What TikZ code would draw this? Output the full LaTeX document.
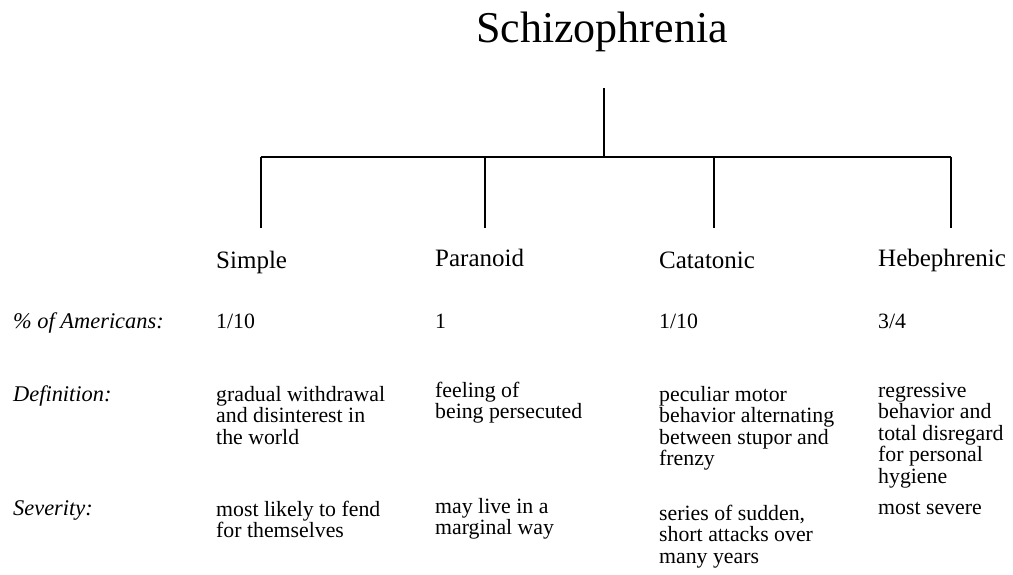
\documentclass[tikz,border=0pt]{standalone}
\usepackage{fontspec}
\setmainfont{Liberation Serif}
\newcommand\mlines[1]{\begin{tabular}[t]{@{}l@{}}#1\end{tabular}}
\begin{document}
\begin{tikzpicture}[x=1pt,y=-1pt,
  txt/.style={anchor=base west, inner sep=0pt, font=\fontsize{21.8}{21.5}\selectfont},
  rowlab/.style={anchor=base west, inner sep=0pt, font=\fontsize{22.4}{21.5}\selectfont\itshape},
  head/.style={anchor=base west, inner sep=0pt, font=\fontsize{25}{30}\selectfont},
  ttl/.style={anchor=base, inner sep=0pt, font=\fontsize{44}{50}\selectfont},
  conn/.style={line width=1.3pt}]
\useasboundingbox (0,0) rectangle (1013,574);
\node[ttl] (root) at (602,42) {Schizophrenia};
\coordinate (t) at (604,88);
\coordinate (j) at (604,157);
\coordinate (b1) at (261,157);
\coordinate (b2) at (485,157);
\coordinate (b3) at (714,157);
\coordinate (b4) at (951,157);
\coordinate (e1) at (261,228);
\coordinate (e2) at (485,228);
\coordinate (e3) at (714,228);
\coordinate (e4) at (951,228);
\draw[conn] (t) -- (j);
\draw[conn] (b1) -- (b4);
\draw[conn] (b1) -- (e1);
\draw[conn] (b2) -- (e2);
\draw[conn] (b3) -- (e3);
\draw[conn] (b4) -- (e4);
\node[head] (h1) at (216,268) {Simple};
\node[head] (h2) at (435,266) {Paranoid};
\node[head] (h3) at (659,268) {Catatonic};
\node[head] (h4) at (878,266) {Hebephrenic};
\node[rowlab] (l1) at (13,328) {\% of Americans:};
\node[rowlab] (l2) at (13,401) {Definition:};
\node[rowlab] (l3) at (13,515) {Severity:};
\node[txt] (p1) at (216,328) {1/10};
\node[txt] (p2) at (435,328) {1};
\node[txt] (p3) at (659,328) {1/10};
\node[txt] (p4) at (878,328) {3/4};
\node[txt] (d1) at (216,401) {\mlines{gradual withdrawal\\and disinterest in\\the world}};
\node[txt] (d2) at (435,397) {\mlines{feeling of\\being persecuted}};
\node[txt] (d3) at (659,401) {\mlines{peculiar motor\\behavior alternating\\between stupor and\\frenzy}};
\node[txt] (d4) at (878,397) {\mlines{regressive\\behavior and\\total disregard\\for personal\\hygiene}};
\node[txt] (s1) at (216,516) {\mlines{most likely to fend\\for themselves}};
\node[txt] (s2) at (435,513) {\mlines{may live in a\\marginal way}};
\node[txt] (s3) at (659,520) {\mlines{series of sudden,\\short attacks over\\many years}};
\node[txt] (s4) at (878,514) {most severe};
\end{tikzpicture}
\end{document}
